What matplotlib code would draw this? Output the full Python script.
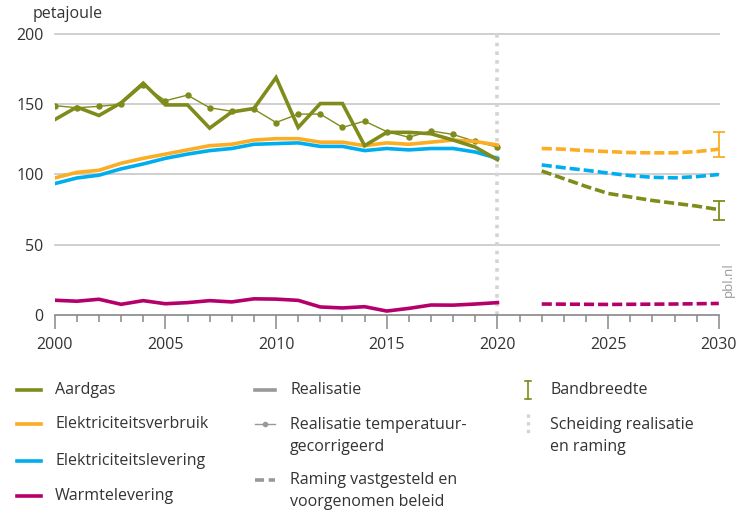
import numpy as np
import matplotlib
matplotlib.use('Agg')
import matplotlib.pyplot as plt
from matplotlib.lines import Line2D

plt.rcParams['font.family'] = ['Open Sans', 'DejaVu Sans']

# realised values 2000-2020 (petajoule)
years = list(range(2000, 2021))
aardgas = [139, 148, 142, 151, 165, 149.5, 149.5, 133, 144.5, 147, 169,
           133.5, 150.5, 150.5, 120.5, 130, 130, 129, 124.5, 119.5, 110.5]
aardgas_tc = [149, 147.5, 148.5, 150, 163.5, 152.5, 156.5, 147.5, 145, 146.5, 137,
              143, 143, 133.5, 138, 130.5, 126.5, 131, 128.5, 123.5, 119.5]
elek_verbruik = [97.5, 101.5, 103, 108, 111.5, 114.5, 117.5, 120.5, 121.5, 124.5, 125.5,
                 125.5, 123, 123, 120.5, 122.5, 121.5, 123, 124.5, 123.5, 121]
elek_levering = [93.5, 97.5, 99.5, 104, 107.5, 111.5, 114.5, 117, 118.5, 121.5, 122,
                 122.5, 120, 120, 117, 118.5, 117.5, 118.5, 118.5, 116, 111.5]
warmte = [10.5, 9.8, 11.2, 7.6, 10.2, 8.0, 8.8, 10.2, 9.3, 11.5, 11.3,
          10.4, 5.7, 5.0, 5.9, 2.8, 4.7, 7.1, 7.0, 7.8, 8.8]

# projections 2022-2030
years_proj = list(range(2022, 2031))
aardgas_proj = [102.5, 97, 91.5, 86.5, 84, 81.5, 79.5, 77.5, 75]
verbruik_proj = [118.5, 118, 117, 116.3, 115.6, 115.4, 115.4, 116.3, 118]
levering_proj = [106.8, 104.8, 103, 101, 99.2, 98, 97.6, 98.5, 100]
warmte_proj = [7.8, 7.7, 7.6, 7.5, 7.6, 7.7, 7.8, 8.0, 8.2]

# bandwidth in 2030 (low, high)
band_aardgas = (67.5, 81)
band_verbruik = (112.5, 130.5)

c_gas = '#7f8c1c'
c_verbruik = '#fbad23'
c_levering = '#00aeef'
c_warmte = '#b5006c'
c_grey = '#999999'

fig = plt.figure(figsize=(7.49, 5.12), dpi=100)
ax = fig.add_axes([0.073, 0.3848, 0.8867, 0.5488])

ax.set_xlim(2000, 2030)
ax.set_ylim(0, 200)

for v in [50, 100, 150, 200]:
    ax.axhline(v, color='#cccccc', lw=1.3, zorder=1, clip_on=False)

ax.axvline(2020, color='#d4d4d4', lw=2.6, ls=(0, (1, 1.4)), zorder=1, clip_on=False,
           ymin=0, ymax=1.0)

lw = 2.6
ax.plot(years, aardgas_tc, color=c_gas, lw=1.0, marker='o', ms=3.6, zorder=3)
ax.plot(years, aardgas, color=c_gas, lw=lw, zorder=4, solid_joinstyle='miter')
ax.plot(years, elek_verbruik, color=c_verbruik, lw=lw, zorder=3)
ax.plot(years, elek_levering, color=c_levering, lw=lw, zorder=3)
ax.plot(years, warmte, color=c_warmte, lw=lw, zorder=3)

dash = (0, (2.8, 1.1))
ax.plot(years_proj, aardgas_proj, color=c_gas, lw=lw, ls=dash, zorder=3)
ax.plot(years_proj, verbruik_proj, color=c_verbruik, lw=lw, ls=dash, zorder=3)
ax.plot(years_proj, levering_proj, color=c_levering, lw=lw, ls=dash, zorder=3)
ax.plot(years_proj, warmte_proj, color=c_warmte, lw=lw, ls=dash, zorder=3)

for (lo, hi), col in [(band_aardgas, c_gas), (band_verbruik, c_verbruik)]:
    ax.errorbar([2030], [(lo + hi) / 2], yerr=[[(hi - lo) / 2], [(hi - lo) / 2]],
                fmt='none', ecolor=col, elinewidth=1.3, capsize=4, capthick=1.3,
                zorder=5, clip_on=False)

for s in ['top', 'right', 'left']:
    ax.spines[s].set_visible(False)
ax.spines['bottom'].set_color('#888888')
ax.spines['bottom'].set_linewidth(1.2)

ax.set_xticks(range(2000, 2031, 5))
ax.set_xticks(range(2000, 2031), minor=True)
ax.tick_params(axis='x', which='major', length=10, width=1.1, color='#888888',
               labelsize=11.5, labelcolor='#333333', pad=6)
ax.tick_params(axis='x', which='minor', length=5, width=1.1, color='#888888')
ax.set_yticks([0, 50, 100, 150, 200])
ax.tick_params(axis='y', length=0, labelsize=11.5, labelcolor='#333333', pad=8)

fig.text(0.044, 0.972, 'petajoule', fontsize=11.5, color='#333333', va='center')
fig.text(0.972, 0.42, 'pbl.nl', fontsize=9.5, color='#999999', rotation=90,
         va='bottom', ha='center')

# legend, built by hand in figure pixels
W, H = 749, 512


def fx(px):
    return px / W


def fy(py):
    return 1 - py / H


def leg_line(x0, x1, y, **kw):
    fig.add_artist(Line2D([fx(x0), fx(x1)], [fy(y), fy(y)], transform=fig.transFigure, **kw))


def leg_text(x, y, s):
    fig.text(fx(x), fy(y), s, fontsize=11.5, color='#333333', va='center',
             linespacing=1.45)


rows = [390, 424, 461, 496]
col1 = [('Aardgas', c_gas), ('Elektriciteitsverbruik', c_verbruik),
        ('Elektriciteitslevering', c_levering), ('Warmtelevering', c_warmte)]
for (lab, col), y in zip(col1, rows):
    leg_line(17, 41, y, color=col, lw=2.6)
    leg_text(55, y, lab)

leg_line(255, 275, 390, color=c_grey, lw=2.6)
leg_text(290, 390, 'Realisatie')
leg_line(255, 275, 424, color=c_grey, lw=1.0)
fig.add_artist(Line2D([fx(265)], [fy(424)], transform=fig.transFigure, color=c_grey,
                      marker='o', ms=3, lw=0))
leg_text(290, 436, 'Realisatie temperatuur-\ngecorrigeerd')
leg_line(255, 275, 480, color=c_grey, lw=2.6, ls=(0, (2.5, 1.3)))
leg_text(290, 491, 'Raming vastgesteld en\nvoorgenomen beleid')

fig.add_artist(Line2D([fx(528), fx(528)], [fy(381), fy(399)], transform=fig.transFigure,
                      color=c_gas, lw=1.2))
leg_line(525, 531, 381, color=c_gas, lw=1.2)
leg_line(525, 531, 399, color=c_gas, lw=1.2)
leg_text(550, 390, 'Bandbreedte')
fig.add_artist(Line2D([fx(528), fx(528)], [fy(414), fy(436)], transform=fig.transFigure,
                      color='#d4d4d4', lw=2.4, ls=(0, (1, 1.3))))
leg_text(550, 436, 'Scheiding realisatie\nen raming')

fig.savefig('out.png', dpi=100, facecolor='white')
